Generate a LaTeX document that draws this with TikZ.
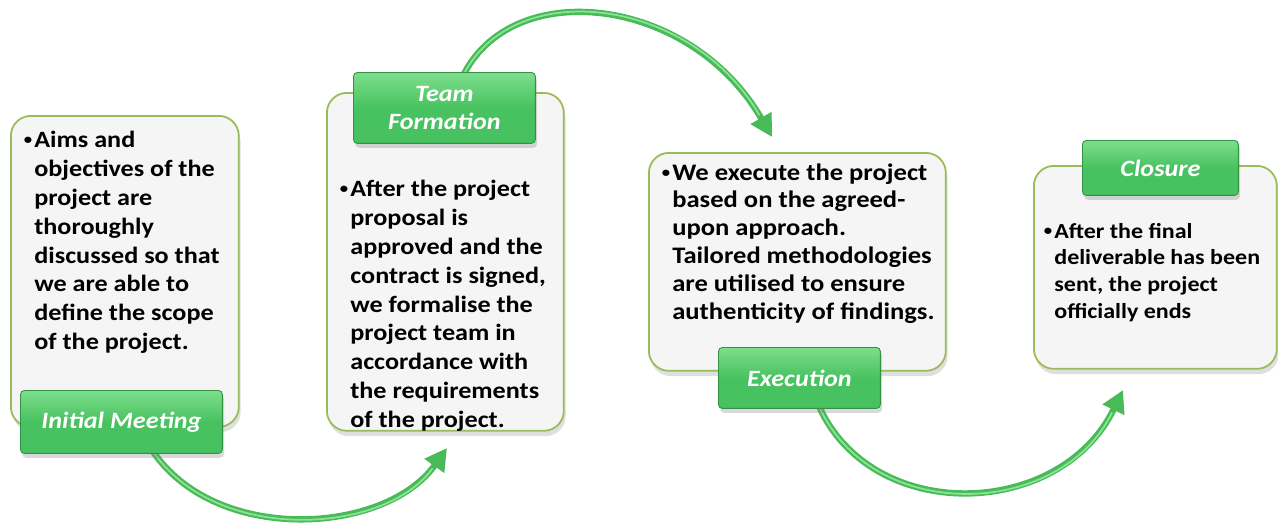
\documentclass[tikz,border=0pt]{standalone}
\usepackage{fontspec}
\setmainfont{Carlito}[FakeStretch=1.12]
\usetikzlibrary{arrows.meta,shadows}
\definecolor{lblgreen}{RGB}{72,194,96}
\definecolor{lbltop}{RGB}{125,222,140}
\definecolor{lbledge}{RGB}{50,145,68}
\definecolor{boxedge}{RGB}{155,187,89}
\definecolor{boxfill}{RGB}{245,245,245}
\definecolor{arrgreen}{RGB}{72,186,88}
\definecolor{arrlight}{RGB}{140,226,150}
\newcommand{\bul}{\llap{\raisebox{1.6pt}{\fontsize{8.5}{8.5}\selectfont\textbullet}\hspace{1.2pt}}}
\begin{document}
\begin{tikzpicture}[x=0.02cm,y=-0.02cm,
  stagebox/.style={draw=boxedge, line width=1pt, fill=boxfill, rounded corners=0.4cm,
    anchor=north west, inner sep=0pt,
    drop shadow={shadow xshift=1pt, shadow yshift=-3pt, opacity=0.25}},
  lbl/.style={draw=lbledge, line width=0.5pt, top color=lbltop, bottom color=lblgreen,
    middle color=lblgreen, rounded corners=0.08cm, anchor=north west, inner sep=0pt,
    text=white, align=center, font=\bfseries\itshape\fontsize{13.3}{16}\selectfont,
    drop shadow={shadow xshift=1pt, shadow yshift=-2.5pt, opacity=0.3}},
  bodytext/.style={anchor=north west, inner sep=0pt, align=left,
    font=\bfseries\fontsize{13.3}{16.4}\selectfont},
  flow/.style={draw=arrgreen, line width=3.6pt, -{Triangle[length=0.44cm,width=0.46cm]}},
  flowhi/.style={draw=arrlight, line width=1pt, shorten >=0.5cm},
]
\useasboundingbox (0,0) rectangle (1278,525);

% stage boxes
\node[stagebox, minimum width=4.56cm, minimum height=6.22cm] (b1) at (10,115) {};
\node[stagebox, minimum width=4.74cm, minimum height=6.76cm] (b2) at (326,92) {};
\node[stagebox, minimum width=5.94cm, minimum height=4.36cm] (b3) at (648,152) {};
\node[stagebox, minimum width=4.86cm, minimum height=4.06cm] (b4) at (1033,165) {};

% arrow end points
\coordinate (a1s) at (152,450);
\coordinate (a1e) at (447,448);
\coordinate (a2s) at (462,78);
\coordinate (a2e) at (772,137);
\coordinate (a3s) at (818,404);
\coordinate (a3e) at (1123,390);

% connectors
\draw[flow] (a1s) .. controls (215,545) and (385,535) .. (a1e);
\draw[flowhi] (a1s) .. controls (215,545) and (385,535) .. (a1e);
\draw[flow] (a2s) .. controls (510,-25) and (690,-5) .. (a2e);
\draw[flowhi] (a2s) .. controls (510,-25) and (690,-5) .. (a2e);
\draw[flow] (a3s) .. controls (870,525) and (1060,520) .. (a3e);
\draw[flowhi] (a3s) .. controls (870,525) and (1060,520) .. (a3e);

% labels
\node[lbl, minimum width=4.04cm, minimum height=1.26cm] (l1) at (20,390) {Initial Meeting};
\node[lbl, minimum width=3.64cm, minimum height=1.42cm] (l2) at (353,72) {Team\\Formation};
\node[lbl, minimum width=3.24cm, minimum height=1.22cm] (l3) at (718,347) {Execution};
\node[lbl, minimum width=3.12cm, minimum height=1.10cm] (l4) at (1082,140) {Closure};

% texts
\node[bodytext] (t1) at (34,131) {\bul Aims and\\objectives of the\\project are\\thoroughly\\discussed so that\\we are able to\\define the scope\\of the project.};
\node[bodytext] (t2) at (350,180) {\bul After the project\\proposal is\\approved and the\\contract is signed,\\we formalise the\\project team in\\accordance with\\the requirements\\of the project.};
\node[bodytext, font=\bfseries\fontsize{13.5}{15.9}\selectfont] (t3) at (672,163) {\bul We execute the project\\based on the agreed-\\upon approach.\\Tailored methodologies\\are utilised to ensure\\authenticity of findings.};
\node[bodytext, font=\bfseries\fontsize{12.2}{15.1}\selectfont] (t4) at (1054,223) {\bul After the final\\deliverable has been\\sent, the project\\officially ends};
\end{tikzpicture}
\end{document}
